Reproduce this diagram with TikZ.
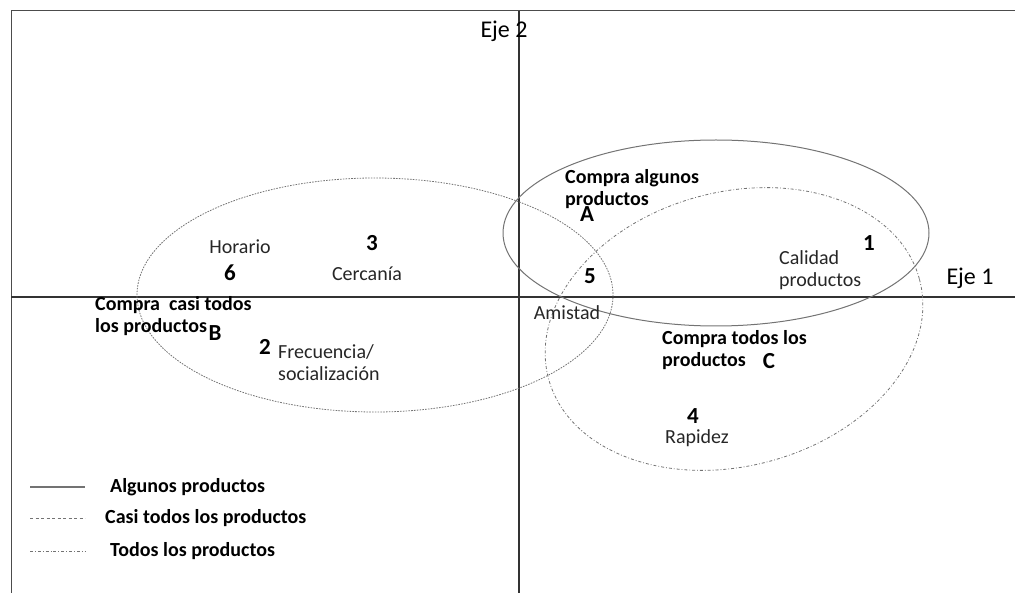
\documentclass[tikz,border=0pt]{standalone}
\usepackage{fontspec}
\setmainfont{Carlito}
\usetikzlibrary{positioning}

\begin{document}
\begin{tikzpicture}[x=1pt, y=-1pt,
            % ----- Line definitions ----- %
            axisline/.style = {draw=black!80, line width=1.2pt},
            someprod/.style = {draw=black!55, line width=1pt},
            almostall/.style = {draw=black!55, line width=0.8pt, dash pattern=on 1.6pt off 1.2pt},
            allprod/.style = {draw=black!55, line width=0.8pt, dash pattern=on 3pt off 2pt on 0.8pt off 2pt},
            % ----- Node definitions ----- %
            plainlbl/.style = {font=\fontsize{20}{22}\selectfont, inner sep=0pt, text=black!85, align=left},
            boldlbl/.style = {font=\bfseries\fontsize{20}{22}\selectfont, inner sep=0pt, align=left},
            numlbl/.style = {font=\bfseries\fontsize{23}{23}\selectfont, inner sep=0pt},
            axislbl/.style = {font=\fontsize{24}{24}\selectfont, inner sep=0pt},
    ]
    \useasboundingbox (0,0) rectangle (1015,593);

            % ----- Frame and axes ----- %
        \coordinate (framebl) at (11,593);
        \coordinate (frametl) at (11,11);
        \coordinate (frametr) at (1015,11);
        \draw [draw=black!70, line width=1pt] (framebl) -- (frametl) -- (frametr);

        \coordinate (axwest) at (11,297);
        \coordinate (axeast) at (1015,297);
        \coordinate (axnorth) at (519,11);
        \coordinate (axsouth) at (519,593);
        \draw [axisline] (axwest) -- (axeast);
        \draw [axisline] (axnorth) -- (axsouth);

        \node [axislbl] (eje2) at (504,31) {Eje 2};
        \node [axislbl] (eje1) at (970,278) {Eje 1};

            % ----- Groups ----- %
        \draw [someprod] (716,233) ellipse [x radius=213, y radius=93];
        \draw [almostall] (375,295) ellipse [x radius=238, y radius=117];
        \draw [allprod, rotate around={15:(734,329)}] (734,329) ellipse [x radius=192, y radius=137];

            % ----- Attributes ----- %
        \node [numlbl] (n1) at (869,243) {1};
        \node [numlbl] (n2) at (265,347) {2};
        \node [numlbl] (n3) at (372,243) {3};
        \node [numlbl] (n4) at (693,416) {4};
        \node [numlbl] (n5) at (590,276) {5};
        \node [numlbl] (n6) at (230,273) {6};

        \node [plainlbl, anchor=west] (calidad) at (779,270) {Calidad\\productos};
        \node [plainlbl, anchor=west] (frecuencia) at (278,363) {Frecuencia/\\socialización};
        \node [plainlbl] (cercania) at (367,274) {Cercanía};
        \node [plainlbl] (rapidez) at (697,438) {Rapidez};
        \node [plainlbl] (amistad) at (567,313) {Amistad};
        \node [plainlbl] (horario) at (240,247) {Horario};

            % ----- Buyers ----- %
        \node [boldlbl, anchor=west] (grpa) at (565,189) {Compra algunos\\productos};
        \node [numlbl] (ltra) at (587,214) {A};
        \node [boldlbl, anchor=west] (grpb) at (95,316) {Compra\ \ casi todos\\los productos};
        \node [numlbl] (ltrb) at (215,333) {B};
        \node [boldlbl, anchor=west] (grpc) at (662,350) {Compra todos los\\productos};
        \node [numlbl] (ltrc) at (769,361) {C};

            % ----- Legend ----- %
        \coordinate (lg1a) at (30,487);
        \coordinate (lg1b) at (85,487);
        \coordinate (lg2a) at (30,518);
        \coordinate (lg2b) at (85,518);
        \coordinate (lg3a) at (30,551);
        \coordinate (lg3b) at (85,551);
        \draw [someprod, line width=1.6pt] (lg1a) -- (lg1b);
        \draw [almostall, dash pattern=on 3pt off 2.5pt] (lg2a) -- (lg2b);
        \draw [allprod] (lg3a) -- (lg3b);
        \node [boldlbl, anchor=west, right=25pt of lg1b] (lgtxt1) {Algunos productos};
        \node [boldlbl, anchor=west, right=20pt of lg2b] (lgtxt2) {Casi todos los productos};
        \node [boldlbl, anchor=west, right=25pt of lg3b] (lgtxt3) {Todos los productos};
          
\end{tikzpicture}
\end{document}
